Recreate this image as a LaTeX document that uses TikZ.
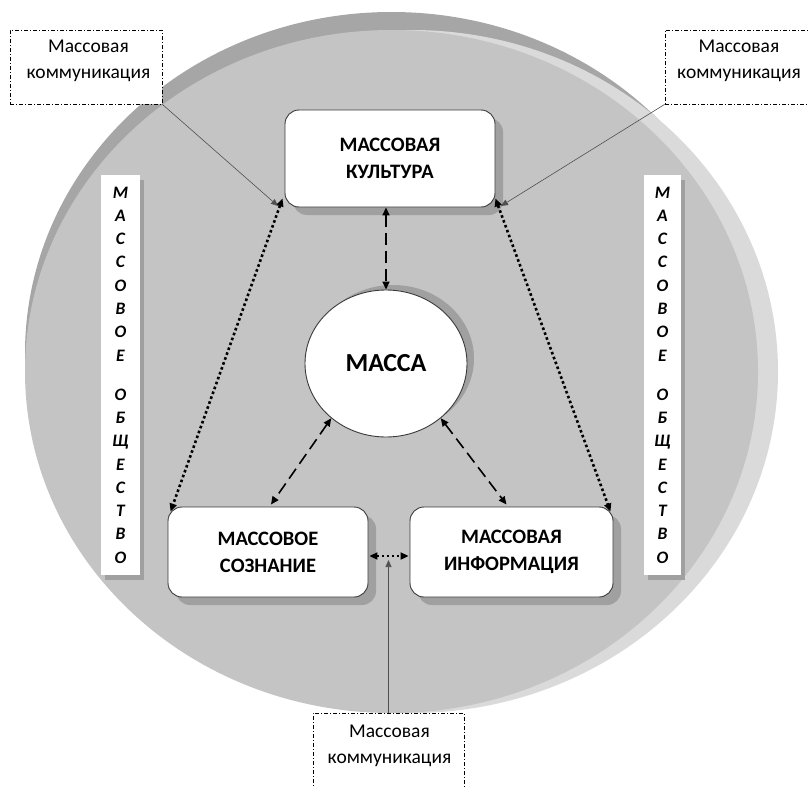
\documentclass[tikz,border=0pt]{standalone}
\usepackage{fontspec}
\setmainfont{Carlito}
\usetikzlibrary{arrows.meta,shapes.geometric,calc,shadows}
\definecolor{disc}{HTML}{C4C4C4}
\definecolor{discdark}{HTML}{A6A6A6}
\definecolor{disclight}{HTML}{DADADA}
\definecolor{shadowc}{HTML}{A0A0A0}
\definecolor{edgec}{HTML}{3A3A3A}
\definecolor{thinln}{HTML}{505050}
\begin{document}
\begin{tikzpicture}[x=1pt,y=-1pt,
  box/.style={draw=edgec, line width=0.9pt, fill=white, rounded corners=14pt,
    align=center, inner sep=0pt, font=\bfseries\fontsize{20.5}{27}\selectfont,
    drop shadow={shadow xshift=8pt, shadow yshift=-8pt, fill=shadowc, opacity=1}},
  massbox/.style={ellipse, draw=edgec, line width=0.9pt, fill=white, inner sep=0pt,
    font=\bfseries\fontsize{26}{30}\selectfont,
    drop shadow={shadow xshift=7pt, shadow yshift=5pt, fill=shadowc, opacity=1}},
  vbox/.style={fill=white, inner sep=0pt, align=center,
    font=\bfseries\itshape\fontsize{17.5}{23.3}\selectfont,
    drop shadow={shadow xshift=4pt, shadow yshift=-5pt, fill=shadowc, opacity=1}},
  lbox/.style={draw=black, fill=white, line width=0.7pt,
    dash pattern=on 4pt off 2pt on 1pt off 2pt, inner sep=0pt},
  ltext/.style={align=center, inner sep=0pt, font=\fontsize{19.5}{26}\selectfont},
  tipA/.style={{Triangle[length=8pt,width=7pt]}-{Triangle[length=8pt,width=7pt]}},
  dashln/.style={line width=1.6pt, dash pattern=on 12pt off 6pt, tipA},
  dotln/.style={line width=2.6pt, dash pattern=on 2.6pt off 2.6pt, tipA},
  dotsm/.style={line width=2pt, dash pattern=on 2pt off 3pt, tipA},
  thinarr/.style={draw=thinln, line width=0.6pt, -{Triangle[length=7pt,width=6pt]}}
]
\useasboundingbox (0,0) rectangle (809,787);
% disc
\fill[discdark] (391.5,353.5) ellipse [x radius=366.5, y radius=341.5];
\fill[disclight] (411.5,371.5) ellipse [x radius=366.5, y radius=341.5];
\fill[disc] (391.5,371.5) ellipse [x radius=366.5, y radius=341.5];

% label boxes
\node[lbox, minimum width=152pt, minimum height=74pt] (ktl) at (86,67) {};
\node[ltext] (ktlt) at (88.5,61) {Массовая\\коммуникация};
\node[lbox, minimum width=150pt, minimum height=74pt] (ktr) at (740,67) {};
\node[ltext] (ktrt) at (739,61) {Массовая\\коммуникация};
\node[lbox, minimum width=151pt, minimum height=82pt] (kb) at (388.5,754) {};
\node[ltext] (kbt) at (389.5,745.5) {Массовая\\коммуникация};

% main nodes
\node[box, minimum width=210pt, minimum height=97pt] (cult) at (390,158.5) {МАССОВАЯ\\КУЛЬТУРА};
\node[massbox, minimum width=162pt, minimum height=147pt] (massa) at (386,363.5) {МАССА};
\node[box, minimum width=200pt, minimum height=90pt] (cons) at (268,552) {МАССОВОЕ\\СОЗНАНИЕ};
\node[box, minimum width=203pt, minimum height=90pt] (info) at (511.5,552) {МАССОВАЯ\\ИНФОРМАЦИЯ};

% vertical boxes
\node[vbox, minimum width=39pt, minimum height=400pt] (lsoc) at (120.5,375)
  {М\\А\\С\\С\\О\\В\\О\\Е\\[15.7pt]О\\Б\\Щ\\Е\\С\\Т\\В\\О};
\node[vbox, minimum width=37pt, minimum height=400pt] (rsoc) at (662.5,375)
  {М\\А\\С\\С\\О\\В\\О\\Е\\[15.7pt]О\\Б\\Щ\\Е\\С\\Т\\В\\О};

% dashed connectors
\draw[dashln] (massa.north |- cult.south) -- (massa.north);
\draw[dashln] (massa.225) -- ($(cons.north)+(3,-2)$);
\draw[dashln] (massa.-45) -- ($(info.north)+(-5,-2)$);

% dotted connectors
\draw[dotln] ($(cult.south west)+(-2,-9)$) -- ($(cons.north west)+(3,5)$);
\draw[dotln] ($(cult.south east)+(0,-9)$) -- ($(info.north east)+(-3,5)$);
\draw[dotsm] ($(cons.east)+(1,4)$) -- ($(info.west)+(-1,4)$);

% thin lines from labels
\coordinate (pl) at (278,206);
\coordinate (pr) at (501,206);
\coordinate (pb) at (388.5,560);
\draw[thinarr] (ktl.south east) -- (pl);
\draw[thinarr] (ktr.south west) -- (pr);
\draw[thinarr] (kb.north) -- (pb);
\end{tikzpicture}
\end{document}
